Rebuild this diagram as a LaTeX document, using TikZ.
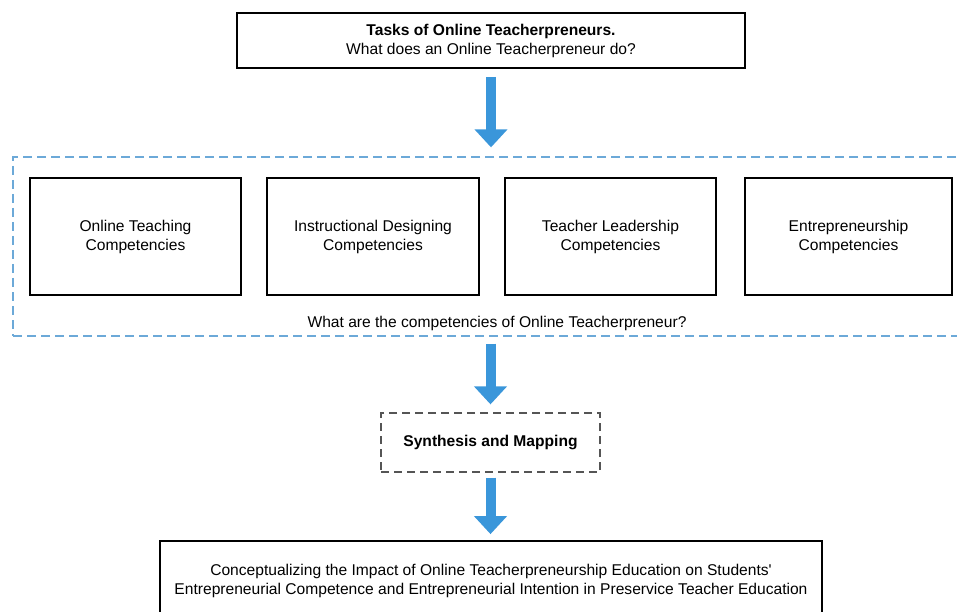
\documentclass[tikz,border=0pt]{standalone}
\usepackage{fontspec}
\setmainfont{Liberation Sans}
\usetikzlibrary{arrows.meta}
\definecolor{arrowblue}{HTML}{3A96DA}
\definecolor{dashblue}{HTML}{6CA9D8}
\definecolor{dashgray}{HTML}{555555}

\begin{document}
\begin{tikzpicture}[x=1pt, y=-1pt,
		every node/.style={font=\fontsize{15.6}{19}\selectfont, align=center, inner sep=0pt},
		box/.style={draw, line width=1.8pt, minimum width=211pt, minimum height=117pt},
		group/.style={draw=dashblue, line width=1.3pt, dash pattern=on 9pt off 5pt, minimum width=949pt, minimum height=179pt},
		synbox/.style={draw=dashgray, line width=1.3pt, dash pattern=on 8pt off 5pt, minimum width=219pt, minimum height=59pt},
		flow/.style={arrowblue, line width=10pt, -{Triangle[width=32pt,length=18pt]}}]
		\useasboundingbox (0,0) rectangle (957,612);

		\path (491,40.5) node[draw, line width=1.8pt, minimum width=508pt, minimum height=55pt] (task) {\textbf{Tasks of Online Teacherpreneurs.}\\What does an Online Teacherpreneur do?}
		(487.5,246.5) node[group] (comp) {}
		(135.5,236.5) node[box] (c1) {Online Teaching\\Competencies}
		(373,236.5) node[box, minimum width=212pt] (c2) {Instructional Designing\\Competencies}
		(610.5,236.5) node[box] (c3) {Teacher Leadership\\Competencies}
		(848.5,236.5) node[box, minimum width=207pt] (c4) {Entrepreneurship\\Competencies}
		(497,323) node (q) {What are the competencies of Online Teacherpreneur?}
		(490.5,442.5) node[synbox] (syn) {\textbf{Synthesis and Mapping}}
		(491,581) node[draw, line width=1.8pt, minimum width=662pt, minimum height=80pt] (out) {Conceptualizing the Impact of Online Teacherpreneurship Education on Students\textquotesingle\\Entrepreneurial Competence and Entrepreneurial Intention in Preservice Teacher Education};

		\draw[flow, shorten <=8pt, shorten >=9pt] (task.south) -- (task.south |- comp.north);
		\draw[flow, shorten <=7pt, shorten >=8pt] (comp.south -| syn.north) -- (syn.north);
		\draw[flow, shorten <=5pt, shorten >=6pt] (syn.south) -- (syn.south |- out.north);
	\end{tikzpicture}
\end{document}
